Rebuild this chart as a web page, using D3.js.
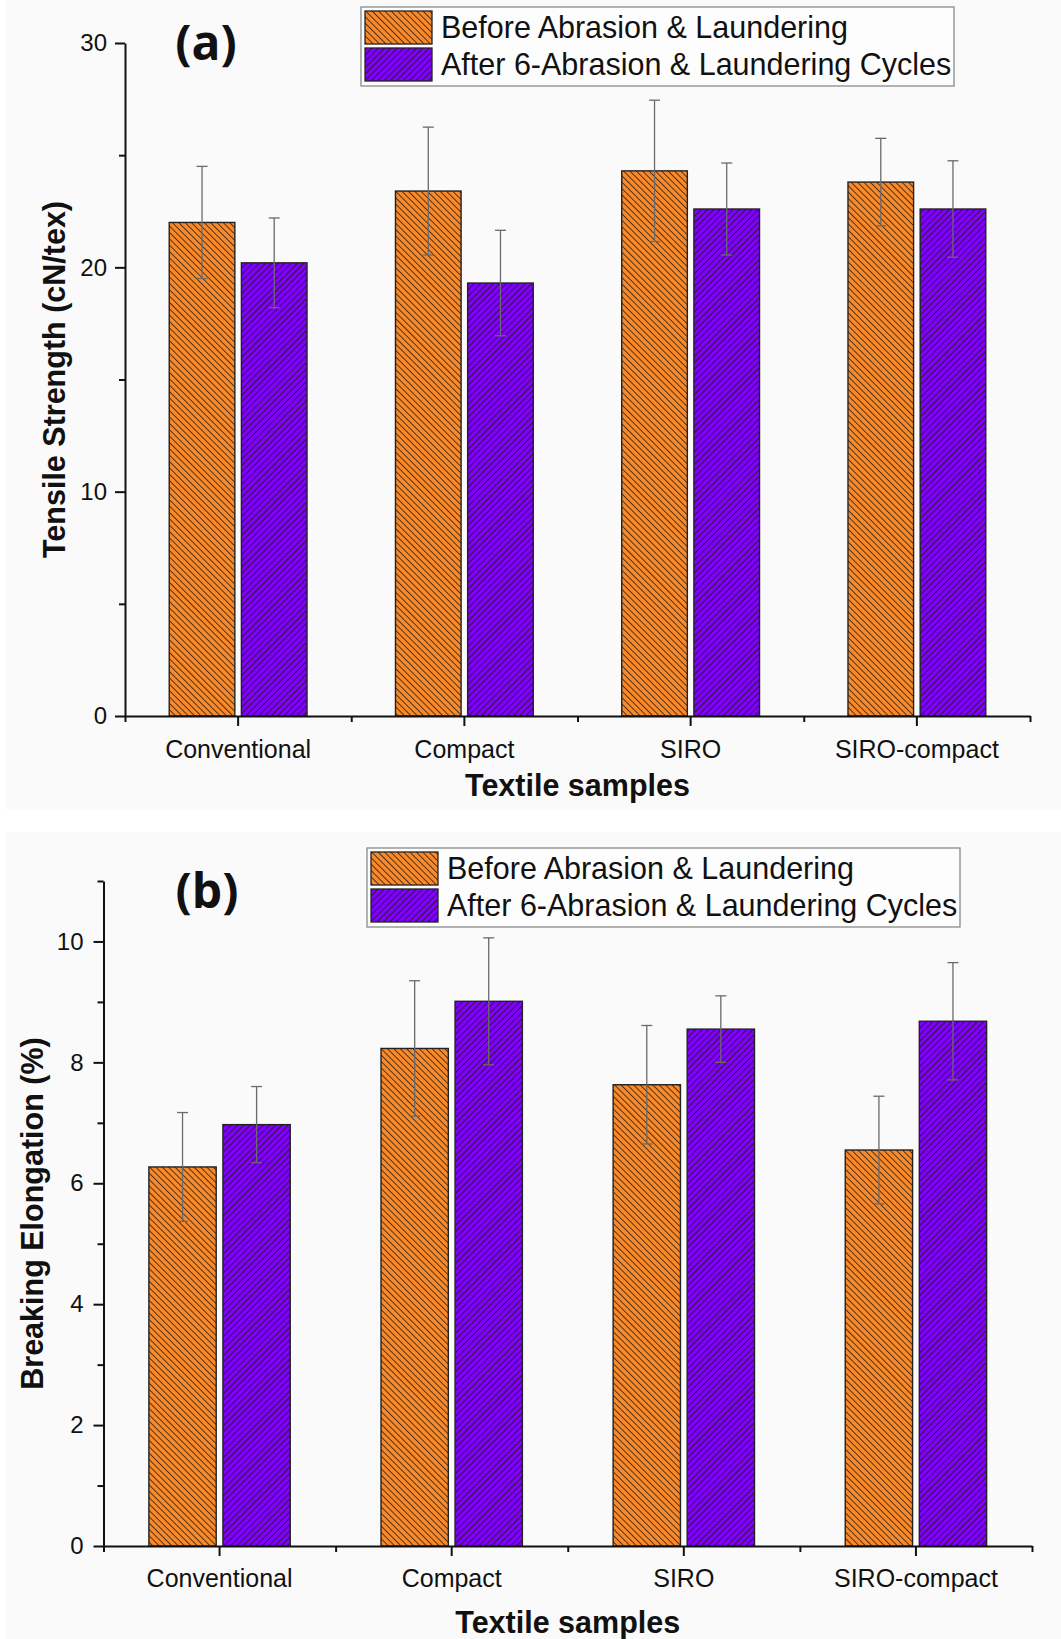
<!DOCTYPE html>
<html>
<head>
<meta charset="utf-8">
<script src="https://cdn.jsdelivr.net/npm/d3@7"></script>
<style>
    html, body { margin: 0; padding: 0; background: #fff; }
    svg { display: block; }
    text { font-family: "Liberation Sans", Arial, sans-serif; fill: #111; }
</style>
</head>
<body>
<div id="chart"></div>
<script>
// ---- data ----
const categories = ["Conventional", "Compact", "SIRO", "SIRO-compact"];
const seriesNames = ["Before Abrasion & Laundering", "After 6-Abrasion & Laundering Cycles"];
const seriesColors = ["#f98a2c", "#8000ff"];

const tensileBefore = [22.0, 23.4, 24.3, 23.8];
const tensileBeforeErr = [2.5, 2.85, 3.15, 1.95];
const tensileAfter = [20.2, 19.3, 22.6, 22.6];
const tensileAfterErr = [2.0, 2.35, 2.05, 2.15];
const tensileTicks = [0, 10, 20, 30];
const tensileMinorTicks = [5, 15, 25];

const elongBefore = [6.27, 8.23, 7.63, 6.55];
const elongBeforeErr = [0.9, 1.12, 0.98, 0.89];
const elongAfter = [6.97, 9.01, 8.55, 8.68];
const elongAfterErr = [0.63, 1.05, 0.55, 0.97];
const elongTicks = [0, 2, 4, 6, 8, 10];
const elongMinorTicks = [1, 3, 5, 7, 9, 11];

const width = 1061, height = 1639;

const svg = d3.select("#chart")
    .append("svg")
    .attr("width", width)
    .attr("height", height);

// hatch fills
const defs = svg.append("defs");
const hatchGap = 4.5;
[["hatch-0", -45, seriesColors[0]], ["hatch-1", 45, seriesColors[1]]].forEach(([id, angle, color]) => {
    const p = defs.append("pattern")
        .attr("id", id)
        .attr("patternUnits", "userSpaceOnUse")
        .attr("width", hatchGap)
        .attr("height", hatchGap)
        .attr("patternTransform", `rotate(${angle})`);
    p.append("rect")
        .attr("width", hatchGap)
        .attr("height", hatchGap)
        .attr("fill", color);
    p.append("line")
        .attr("x1", 0.5).attr("x2", 0.5)
        .attr("y1", 0).attr("y2", hatchGap)
        .attr("stroke", "#1c1208")
        .attr("stroke-width", 0.75);
});

function drawPanel(cfg) {
    // panel background
    svg.append("rect")
        .attr("x", cfg.bg[0]).attr("y", cfg.bg[1])
        .attr("width", cfg.bg[2]).attr("height", cfg.bg[3])
        .attr("fill", "#fafafa");

    const g = svg.append("g");

    const x = d3.scaleBand()
        .domain(categories)
        .range([cfg.left, cfg.right]);

    const y = d3.scaleLinear()
        .domain([0, cfg.yMax])
        .range([cfg.bottom, cfg.top]);

    const bw = x.bandwidth();
    const barW = bw * 0.29;
    const gap = bw * 0.029;

    const series = [
        { key: 0, values: cfg.before, errs: cfg.beforeErr },
        { key: 1, values: cfg.after, errs: cfg.afterErr }
    ];

    series.forEach(s => {
        const rows = categories.map((c, i) => ({ cat: c, v: s.values[i], e: s.errs[i] }));
        const bx = d => x(d.cat) + bw / 2 + (s.key === 0 ? -gap / 2 - barW : gap / 2);

        g.selectAll(null)
            .data(rows)
            .enter()
            .append("rect")
            .attr("x", bx)
            .attr("y", d => y(d.v))
            .attr("width", barW)
            .attr("height", d => y(0) - y(d.v))
            .attr("fill", `url(#hatch-${s.key})`)
            .attr("stroke", "#222")
            .attr("stroke-width", 1.4);

        // error bars
        const eg = g.selectAll(null)
            .data(rows)
            .enter()
            .append("g")
            .attr("stroke", "#6a6a6a")
            .attr("stroke-width", 1.3);
        eg.append("line")
            .attr("x1", d => bx(d) + barW / 2)
            .attr("x2", d => bx(d) + barW / 2)
            .attr("y1", d => y(d.v - d.e))
            .attr("y2", d => y(d.v + d.e));
        eg.append("line")
            .attr("x1", d => bx(d) + barW / 2 - 5.5)
            .attr("x2", d => bx(d) + barW / 2 + 5.5)
            .attr("y1", d => y(d.v + d.e))
            .attr("y2", d => y(d.v + d.e));
        eg.append("line")
            .attr("x1", d => bx(d) + barW / 2 - 5.5)
            .attr("x2", d => bx(d) + barW / 2 + 5.5)
            .attr("y1", d => y(d.v - d.e))
            .attr("y2", d => y(d.v - d.e));
    });

    // y axis
    const yAxis = g.append("g")
        .attr("transform", `translate(${cfg.left},0)`)
        .call(d3.axisLeft(y).tickValues(cfg.ticks).tickSize(10).tickSizeOuter(0).tickPadding(cfg.yPad));
    g.append("g")
        .attr("transform", `translate(${cfg.left},0)`)
        .call(d3.axisLeft(y).tickValues(cfg.minorTicks).tickSize(6).tickFormat(""))
        .select(".domain").remove();

    // x axis
    const xAxis = g.append("g")
        .attr("transform", `translate(0,${cfg.bottom})`)
        .call(d3.axisBottom(x).tickSize(10).tickSizeOuter(0).tickPadding(cfg.xPad));
    const edge = d3.scaleLinear().domain([0, categories.length]).range(x.range());
    g.append("g")
        .attr("transform", `translate(0,${cfg.bottom})`)
        .call(d3.axisBottom(edge).tickValues(d3.range(categories.length + 1)).tickSize(6).tickFormat(""))
        .select(".domain").remove();

    g.selectAll(".domain, .tick line")
        .attr("stroke", "#111")
        .attr("stroke-width", 2);
    yAxis.selectAll("text")
        .style("font-size", "24px")
        .attr("fill", "#111");
    xAxis.selectAll("text")
        .style("font-size", "25px")
        .attr("fill", "#111");

    // axis titles
    g.append("text")
        .attr("transform", `translate(${cfg.yTitleX},${(cfg.top + cfg.bottom) / 2}) rotate(-90)`)
        .attr("text-anchor", "middle")
        .style("font-size", "30.5px")
        .style("font-weight", "bold")
        .text(cfg.yTitle);

    g.append("text")
        .attr("x", (cfg.left + cfg.right) / 2)
        .attr("y", cfg.xTitleY)
        .attr("text-anchor", "middle")
        .style("font-size", "30.5px")
        .style("font-weight", "bold")
        .text("Textile samples");

    // panel letter
    g.append("text")
        .attr("x", cfg.tag[0])
        .attr("y", cfg.tag[1])
        .attr("text-anchor", "middle")
        .style("font-family", "'Open Sans', sans-serif")
        .style("font-size", "48px")
        .style("font-weight", "bold")
        .text(cfg.tagText);

    // legend
    const lg = g.append("g")
        .attr("transform", `translate(${cfg.legend[0]},${cfg.legend[1]})`);
    lg.append("rect")
        .attr("width", 593)
        .attr("height", 79)
        .attr("fill", "#fdfdfd")
        .attr("stroke", "#8a8a8a")
        .attr("stroke-width", 1.3);
    const items = lg.selectAll(".item")
        .data(seriesNames)
        .enter()
        .append("g")
        .attr("class", "item")
        .attr("transform", (d, i) => `translate(4,${4 + i * 37})`);
    items.append("rect")
        .attr("width", 67)
        .attr("height", 33)
        .attr("fill", (d, i) => `url(#hatch-${i})`)
        .attr("stroke", "#222")
        .attr("stroke-width", 1.3);
    items.append("text")
        .attr("x", 76)
        .attr("y", 16.5)
        .attr("dy", "0.36em")
        .style("font-size", "30.5px")
        .text(d => d);
}

drawPanel({
    bg: [6, 0, 1055, 810],
    left: 125, right: 1030, top: 43, bottom: 716,
    yMax: 30, ticks: tensileTicks, minorTicks: tensileMinorTicks,
    before: tensileBefore, beforeErr: tensileBeforeErr,
    after: tensileAfter, afterErr: tensileAfterErr,
    yPad: 8, xPad: 14,
    yTitle: "Tensile Strength (cN/tex)", yTitleX: 65, xTitleY: 796,
    tag: [206, 60], tagText: "(a)",
    legend: [361, 7]
});

drawPanel({
    bg: [6, 832, 1055, 807],
    left: 103.5, right: 1032, top: 881, bottom: 1546,
    yMax: 11, ticks: elongTicks, minorTicks: elongMinorTicks,
    before: elongBefore, beforeErr: elongBeforeErr,
    after: elongAfter, afterErr: elongAfterErr,
    yPad: 10, xPad: 13.5,
    yTitle: "Breaking Elongation (%)", yTitleX: 43, xTitleY: 1633,
    tag: [207, 908], tagText: "(b)",
    legend: [367, 848]
});
</script>
</body>
</html>
